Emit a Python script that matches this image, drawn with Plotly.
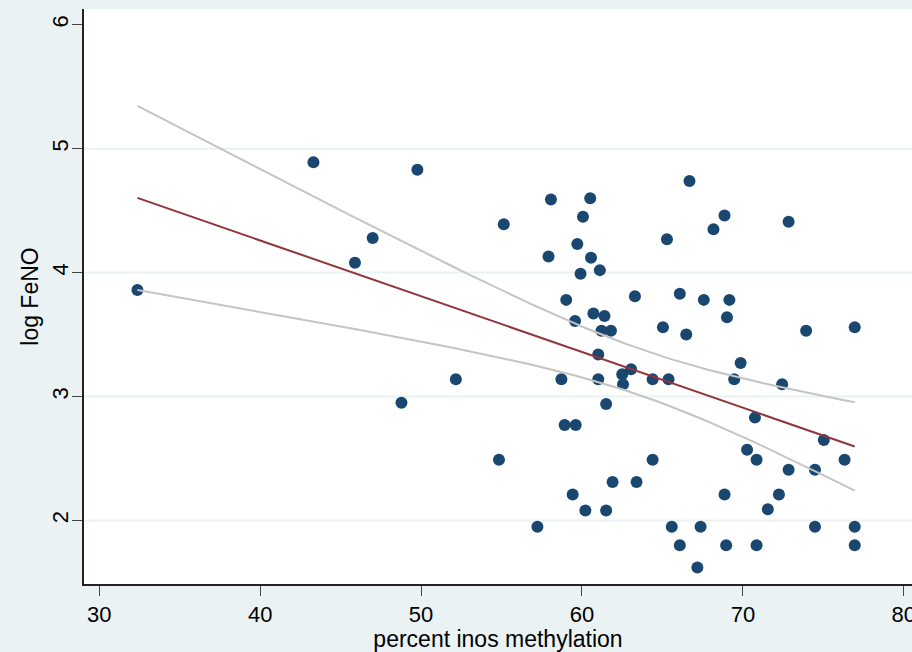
import numpy as np
import plotly.graph_objects as go

# percent iNOS methylation (x) and log FeNO (y) for each subject
methylation = [
    32.37, 43.31, 45.89, 46.99, 48.78, 49.77, 52.16, 54.84, 55.14, 57.23,
    57.92, 58.07, 58.72, 58.92, 59.02, 59.42, 59.57, 59.61, 59.71, 59.91,
    60.06, 60.21, 60.51, 60.56, 60.71, 61.01, 61.01, 61.11, 61.21, 61.40,
    61.50, 61.50, 61.80, 61.90, 62.50, 62.55, 63.05, 63.39, 63.29, 64.39,
    64.39, 65.03, 65.28, 65.38, 65.58, 66.08, 66.08, 66.48, 66.68, 67.17,
    67.37, 67.57, 68.17, 68.86, 68.86, 68.96, 69.01, 69.16, 69.46, 69.86,
    70.26, 70.75, 70.85, 70.85, 71.55, 72.24, 72.44, 72.84, 72.84, 73.93,
    74.48, 74.48, 75.03, 76.32, 76.95, 76.95, 76.95,
]
log_feno = [
    3.86, 4.89, 4.08, 4.28, 2.95, 4.83, 3.14, 2.49, 4.39, 1.95,
    4.13, 4.59, 3.14, 2.77, 3.78, 2.21, 3.61, 2.77, 4.23, 3.99,
    4.45, 2.08, 4.60, 4.12, 3.67, 3.34, 3.14, 4.02, 3.53, 3.65,
    2.94, 2.08, 3.53, 2.31, 3.18, 3.10, 3.22, 2.31, 3.81, 3.14,
    2.49, 3.56, 4.27, 3.14, 1.95, 3.83, 1.80, 3.50, 4.74, 1.62,
    1.95, 3.78, 4.35, 4.46, 2.21, 1.80, 3.64, 3.78, 3.14, 3.27,
    2.57, 2.83, 2.49, 1.80, 2.09, 2.21, 3.10, 4.41, 2.41, 3.53,
    1.95, 2.41, 2.65, 2.49, 3.56, 1.95, 1.80,
]

x_ticks = [30, 40, 50, 60, 70, 80]
y_ticks = [2, 3, 4, 5, 6]
grid_y = [2, 3, 4, 5]

# Linear fit with 95% confidence interval of the mean prediction
x = np.array(methylation)
y = np.array(log_feno)
n = len(x)
slope, intercept = np.polyfit(x, y, 1)
resid = y - (intercept + slope * x)
s = np.sqrt(np.sum(resid ** 2) / (n - 2))
sxx = np.sum((x - x.mean()) ** 2)
t_crit = 1.9921  # t(0.975, df=75)
xg = np.linspace(x.min(), x.max(), 100)
yg = intercept + slope * xg
se = s * np.sqrt(1.0 / n + (xg - x.mean()) ** 2 / sxx)
lo = yg - t_crit * se
hi = yg + t_crit * se

navy = "#1A476F"
maroon = "#90353B"
ci_gray = "#C4C4C4"
bg = "#EAF2F3"
font = "Liberation Sans, Arial, sans-serif"

fig = go.Figure()
fig.add_trace(go.Scatter(
    x=methylation, y=log_feno, mode="markers",
    marker=dict(color=navy, size=12, line=dict(width=0)),
    showlegend=False, hoverinfo="x+y",
))
fig.add_trace(go.Scatter(x=xg, y=hi, mode="lines",
                         line=dict(color=ci_gray, width=2), showlegend=False))
fig.add_trace(go.Scatter(x=xg, y=lo, mode="lines",
                         line=dict(color=ci_gray, width=2), showlegend=False))
fig.add_trace(go.Scatter(x=xg, y=yg, mode="lines",
                         line=dict(color=maroon, width=2), showlegend=False))

for g in grid_y:
    fig.add_shape(type="line", xref="paper", x0=0, x1=1, yref="y", y0=g, y1=g,
                  line=dict(color=bg, width=2), layer="below")

fig.update_layout(
    width=912, height=652,
    margin=dict(l=84, r=0, t=9, b=68),
    paper_bgcolor=bg, plot_bgcolor="white",
    font=dict(family=font, size=22, color="black"),
)
fig.update_xaxes(
    range=[29.05, 80.51], tickvals=x_ticks, ticktext=[str(v) for v in x_ticks],
    showgrid=False, zeroline=False, showline=True, linecolor="#222222", linewidth=1.5,
    ticks="outside", ticklen=10, tickwidth=1.2, tickcolor="#444444",
    tickfont=dict(size=22), ticklabeloverflow="allow", automargin=False,
    title=dict(text="percent inos methylation", font=dict(size=23), standoff=0),
)
fig.update_yaxes(
    range=[1.4875, 6.127], tickvals=y_ticks, ticktext=[str(v) for v in y_ticks],
    tickangle=-90, showgrid=False, zeroline=False, showline=True,
    linecolor="#222222", linewidth=1.5,
    ticks="outside", ticklen=10, tickwidth=1.2, tickcolor="#444444",
    tickfont=dict(size=22), ticklabelstandoff=-5, automargin=False,
    title=dict(text="log FeNO", font=dict(size=23), standoff=3),
)

fig.write_html("out.html")
